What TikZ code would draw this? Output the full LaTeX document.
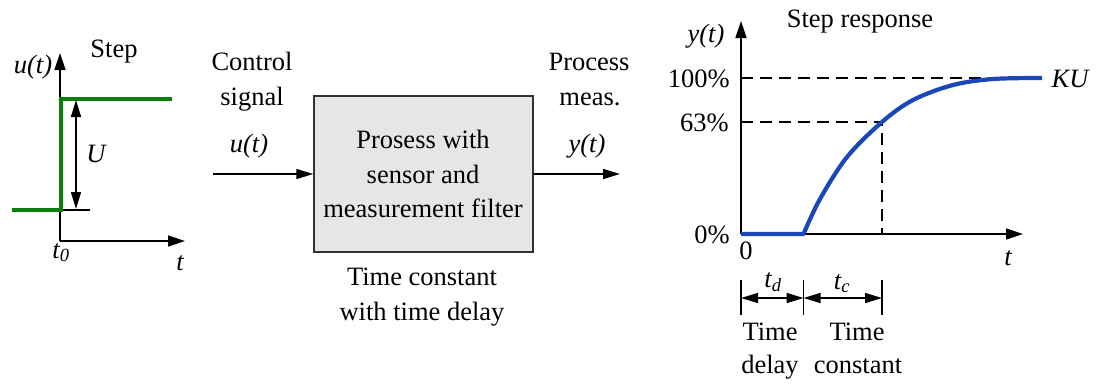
\documentclass[tikz,border=0pt]{standalone}
\usepackage{fontspec}
\setmainfont{Liberation Serif}
\usetikzlibrary{arrows.meta}
\definecolor{stepgreen}{RGB}{10,128,10}
\definecolor{respblue}{RGB}{25,70,185}
\definecolor{boxfill}{RGB}{230,230,230}
\definecolor{boxline}{RGB}{50,50,50}
\begin{document}
\begin{tikzpicture}[x=1pt,y=-1pt,
  txt/.style={inner sep=0pt,anchor=base,font=\fontsize{26.5}{35}\selectfont},
  axis/.style={line width=1.5pt,-{Triangle[length=17pt,width=11pt]}},
  thin/.style={line width=1.5pt},
  dimarrow/.style={line width=1.5pt,{Triangle[length=17pt,width=10pt]}-{Triangle[length=17pt,width=10pt]}},
  dashline/.style={line width=1.3pt,dash pattern=on 12pt off 7pt},
  sigarrow/.style={line width=1.5pt,-{Triangle[length=17pt,width=10pt]}}]
\useasboundingbox (0,0) rectangle (1097,383);

% ---------- left: step ----------
\coordinate (lo) at (60,241);
\coordinate (lytip) at (60,53);
\coordinate (lxtip) at (185,241);
\draw[axis] (lo) -- (lytip);
\draw[axis] (lo) -- (lxtip);
\coordinate (s1) at (12,210);
\coordinate (s2) at (61,210);
\coordinate (s3) at (61,99);
\coordinate (s4) at (172,99);
\coordinate (tk1) at (60,210);
\coordinate (tk2) at (90,210);
\draw[thin] (tk1) -- (tk2);
\draw[stepgreen,line width=3.3pt] (s1) -- (s2) -- (s3) -- (s4);
\coordinate (ua) at (76,100);
\coordinate (ub) at (76,209);
\draw[dimarrow] (ua) -- (ub);
\node[txt] (steplbl) at (114,57) {Step};
\node[txt] (ult) at (33,73) {\itshape u(t)};
\node[txt] (Ulbl) at (96,162) {\itshape U};
\node[txt] (t0) at (61,258) {\itshape t\textsubscript{0}};
\node[txt] (tl) at (180,270) {\itshape t};

% ---------- middle: block ----------
\node[draw=boxline,fill=boxfill,line width=1.5pt,minimum width=219pt,minimum height=156pt,inner sep=0pt] (box) at (423.5,174) {};
\node[txt] (b1) at (423,148) {Prosess with};
\node[txt] (b2) at (423,183) {sensor and};
\node[txt] (b3) at (423,217) {measurement filter};
\node[txt] (tc1) at (422,285) {Time constant};
\node[txt] (tc2) at (422,320) {with time delay};
\coordinate (inl) at (213,174);
\coordinate (outr) at (620,174);
\draw[sigarrow] (inl) -- (box.west);
\draw[sigarrow] (box.east) -- (outr);
\node[txt] (c1) at (252,70) {Control};
\node[txt] (c2) at (252,105) {signal};
\node[txt] (c3) at (249,152) {\itshape u(t)};
\node[txt] (p1) at (589,70) {Process};
\node[txt] (p2) at (590,105) {meas.};
\node[txt] (p3) at (587,152) {\itshape y(t)};

% ---------- right: response ----------
\coordinate (ro) at (741,234);
\coordinate (rytip) at (741,21);
\coordinate (rxtip) at (1023,234);
\draw[axis] (ro) -- (rytip);
\draw[axis] (ro) -- (rxtip);
\coordinate (h100a) at (741,78);
\coordinate (h100b) at (1042,78);
\coordinate (h63a) at (741,122);
\coordinate (h63b) at (882,122);
\coordinate (v63) at (882,234);
\draw[dashline] (h100a) -- (h100b);
\draw[dashline] (h63a) -- (h63b) -- (v63);
\coordinate (dstart) at (803.5,234);
\draw[respblue,line width=4.2pt,line join=round]
  (ro) -- (dstart) -- plot[smooth,tension=0.55] coordinates {(803.5,234) (820,199) (847,157) (882,122) (913,100) (953,85) (993,79) (1042,78)};
\node[txt] (st) at (860,27) {Step response};
\node[txt] (ylb) at (706,42) {\itshape y(t)};
\node[txt,anchor=base east] (p100) at (730,87) {100\%};
\node[txt,anchor=base east] (p63) at (729,131) {63\%};
\node[txt,anchor=base east] (p0) at (730,243) {0\%};
\node[txt] (zero) at (746,259) {0};
\node[txt] (tr) at (1008,265) {\itshape t};
\node[txt] (KU) at (1070,87) {\itshape KU};
% dimensions
\coordinate (d1a) at (741,280); \coordinate (d1b) at (741,315);
\coordinate (d2a) at (803.5,280); \coordinate (d2b) at (803.5,315);
\coordinate (d3a) at (882,280); \coordinate (d3b) at (882,315);
\draw[thin] (d1a) -- (d1b);
\draw[thin] (d2a) -- (d2b);
\draw[thin] (d3a) -- (d3b);
\coordinate (a1) at (741,298); \coordinate (a2) at (803.5,298); \coordinate (a3) at (882,298);
\draw[dimarrow] (a1) -- (a2);
\draw[dimarrow] (a2) -- (a3);
\node[txt] (td) at (773,287) {\itshape t\textsubscript{d}};
\node[txt] (tcl) at (842,289) {\itshape t\textsubscript{c}};
\node[txt] (tm1) at (770,340) {Time};
\node[txt] (tm2) at (770,373) {delay};
\node[txt] (tm3) at (857,340) {Time};
\node[txt] (tm4) at (858,373) {constant};
\end{tikzpicture}
\end{document}
